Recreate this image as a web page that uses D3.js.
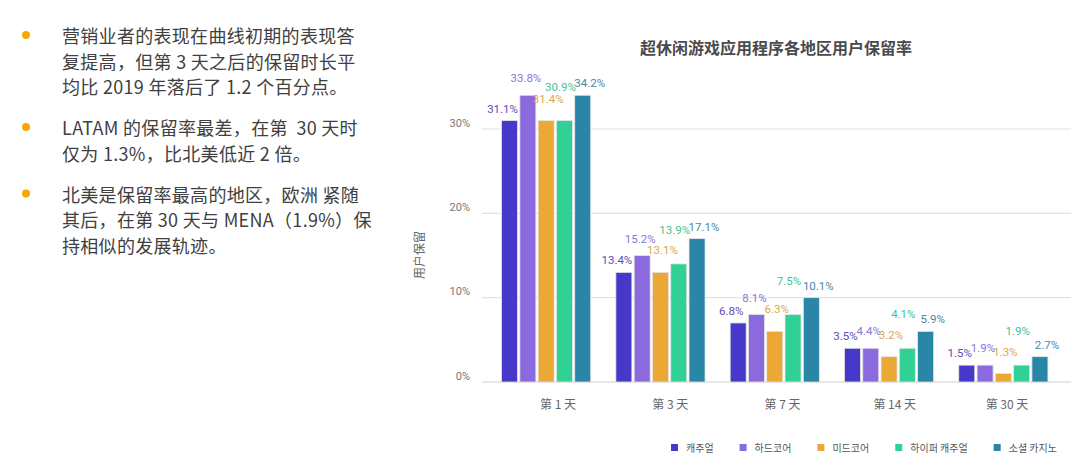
<!DOCTYPE html>
<html>
<head>
<meta charset="utf-8">
<title>超休闲游戏应用程序各地区用户保留率</title>
<script src="https://d3js.org/d3.v7.min.js"></script>
<style>
  body { margin: 0; background: #fff; }
  svg text { font-family: "Noto Sans", "Noto Sans CJK SC", sans-serif; }
  .ko { font-family: "Noto Sans CJK KR", sans-serif; }
</style>
</head>
<body>
<svg id="chart" width="1080" height="466"></svg>
<script>
  // categories and series
  const days = ["第 1 天", "第 3 天", "第 7 天", "第 14 天", "第 30 天"];
  const segments = ["캐주얼", "하드코어", "미드코어", "하이퍼 캐주얼", "소셜 카지노"];

  // retention in %, one array per segment (same order as days)
  const casual       = [31.1, 13.4, 6.8, 3.5, 1.5];
  const hardcore     = [33.8, 15.2, 8.1, 4.4, 1.9];
  const midcore      = [31.4, 13.1, 6.3, 3.2, 1.3];
  const hyperCasual  = [30.9, 13.9, 7.5, 4.1, 1.9];
  const socialCasino = [34.2, 17.1, 10.1, 5.9, 2.7];

  const yTicks = [0, 10, 20, 30];

  const notes = [
    ["营销业者的表现在曲线初期的表现答", "复提高，但第 3 天之后的保留时长平", "均比 2019 年落后了 1.2 个百分点。"],
    ["LATAM 的保留率最差，在第  30 天时", "仅为 1.3%，比北美低近 2 倍。"],
    ["北美是保留率最高的地区，欧洲 紧随", "其后，在第 30 天与 MENA（1.9%）保", "持相似的发展轨迹。"]
  ];

  const series = [casual, hardcore, midcore, hyperCasual, socialCasino];
  const colors = ["#4638c8", "#8b6ade", "#eba836", "#30d195", "#2a86a6"];
  const labelColors = ["#5a4db8", "#8a76d6", "#dba653", "#3fc592", "#4a88a2"];
  // value labels are nudged so they don't collide
  const labelLift = [12, 17, 22, 34, 12];
  const labelShift = [-7, -2, 2, -4, 7];

  const svg = d3.select("#chart");

  // left side bullet text
  let ty = 35;
  notes.forEach(lines => {
    svg.append("circle").attr("cx", 26).attr("cy", ty).attr("r", 4).attr("fill", "#f7a700");
    lines.forEach((line, i) => {
      svg.append("text")
        .attr("x", 62).attr("y", ty + i * 25.5)
        .attr("dominant-baseline", "central")
        .attr("font-size", 18)
        .attr("letter-spacing", 0.3)
        .attr("fill", "#404040")
        .style("font-family", '"Noto Sans CJK SC", sans-serif')
        .style("white-space", "pre")
        .text(line);
    });
    ty += (lines.length - 1) * 25.5 + 41;
  });

  // chart
  const x0 = d3.scaleBand().domain(days).range([489, 1060.5]).paddingInner(0.22).paddingOuter(0.11);
  const x1 = d3.scaleBand().domain(d3.range(segments.length)).range([0, x0.bandwidth()]).paddingInner(0.125);
  const xLabel = d3.scalePoint().domain(days).range([558, 1007]);
  const y = d3.scaleLinear().domain([0, 30]).range([382, 129]);

  svg.append("text")
    .attr("x", 776).attr("y", 47)
    .attr("text-anchor", "middle").attr("dominant-baseline", "central")
    .attr("font-size", 16).attr("font-weight", "bold").attr("fill", "#4a4a4a")
    .style("font-family", '"Noto Sans CJK SC", sans-serif')
    .text("超休闲游戏应用程序各地区用户保留率");

  svg.append("g").selectAll("line")
    .data(yTicks).enter().append("line")
    .attr("x1", 482).attr("x2", 1071)
    .attr("y1", d => y(d)).attr("y2", d => y(d))
    .attr("stroke", d => d === 0 ? "#cfcfcf" : "#e2e2e2")
    .attr("stroke-width", 1.2);

  svg.append("g").selectAll("text")
    .data(yTicks).enter().append("text")
    .attr("x", 470).attr("y", d => y(d) - 6)
    .attr("text-anchor", "end").attr("dominant-baseline", "central")
    .attr("font-size", 11).attr("fill", "#777")
    .style("font-family", "Roboto, sans-serif")
    .text(d => d + "%");

  svg.append("text")
    .attr("transform", "translate(418,255) rotate(-90)")
    .attr("text-anchor", "middle").attr("dominant-baseline", "central")
    .attr("font-size", 12).attr("fill", "#666")
    .style("font-family", '"Noto Sans CJK SC", sans-serif')
    .text("用户保留");

  const groups = svg.append("g").selectAll("g")
    .data(days).enter().append("g")
    .attr("transform", d => `translate(${x0(d)},0)`);

  groups.selectAll("rect")
    .data((d, gi) => series.map((s, si) => ({ si, v: s[gi] })))
    .enter().append("rect")
    .attr("x", d => x1(d.si))
    .attr("width", x1.bandwidth())
    .attr("y", d => y(Math.round(d.v)))
    .attr("height", d => y(0) - y(Math.round(d.v)))
    .attr("fill", d => colors[d.si])
    .attr("stroke", "#e4e4e4")
    .attr("stroke-width", 0.8);

  groups.selectAll("text")
    .data((d, gi) => series.map((s, si) => ({ si, v: s[gi] })))
    .enter().append("text")
    .attr("x", d => x1(d.si) + x1.bandwidth() / 2 + labelShift[d.si])
    .attr("y", d => y(Math.round(d.v)) - labelLift[d.si])
    .attr("text-anchor", "middle").attr("dominant-baseline", "central")
    .attr("font-size", 11.5)
    .attr("fill", d => labelColors[d.si])
    .style("font-family", "Roboto, sans-serif")
    .text(d => d.v.toFixed(1) + "%");

  svg.append("g").selectAll("text")
    .data(days).enter().append("text")
    .attr("x", d => xLabel(d)).attr("y", 403)
    .attr("text-anchor", "middle").attr("dominant-baseline", "central")
    .attr("font-size", 12).attr("fill", "#666")
    .style("font-family", '"Noto Sans CJK SC", sans-serif')
    .style("white-space", "pre")
    .text(d => d);

  // legend
  let lx = 671;
  segments.forEach((name, i) => {
    svg.append("rect").attr("x", lx).attr("y", 444).attr("width", 7).attr("height", 7).attr("fill", colors[i]);
    const t = svg.append("text")
      .attr("class", "ko")
      .attr("x", lx + 15).attr("y", 447.5)
      .attr("dominant-baseline", "central")
      .attr("font-size", 10).attr("fill", "#555")
      .text(name);
    lx += 15 + t.node().getComputedTextLength() + 26;
  });
</script>
</body>
</html>
